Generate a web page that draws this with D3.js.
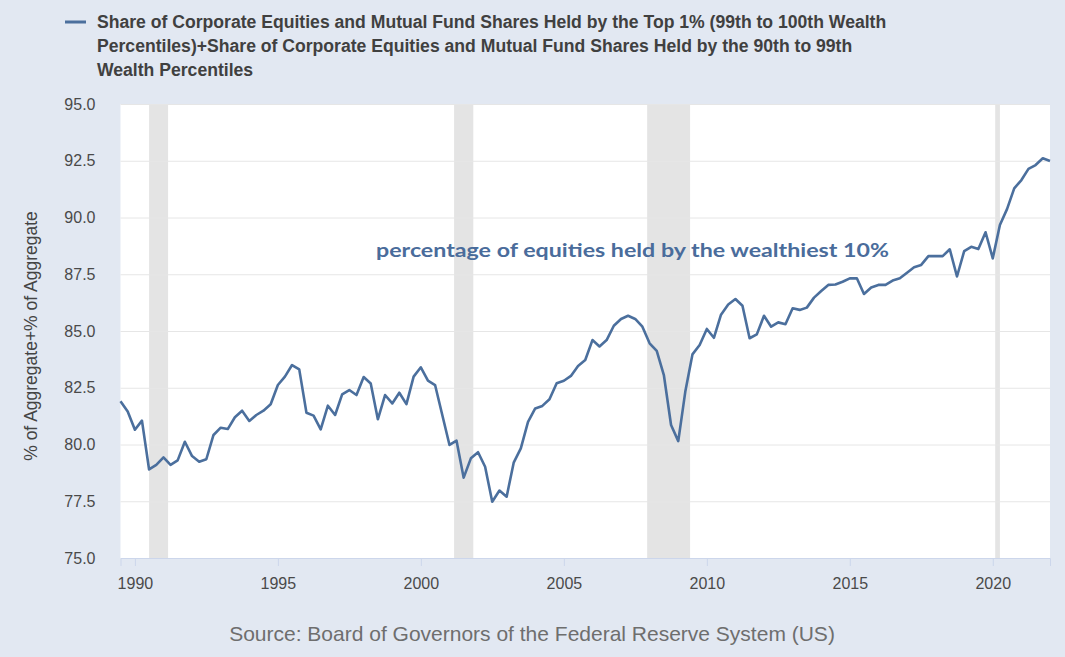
<!DOCTYPE html>
<html>
<head>
<meta charset="utf-8">
<script src="https://cdn.jsdelivr.net/npm/d3@7"></script>
<style>
  html, body { margin: 0; padding: 0; background: #e2e8f2; }
  svg { display: block; }
</style>
</head>
<body>
<div id="chartArea"></div>
<script>
// quarterly observations, first one is 1989-07-01
const firstQuarter = "1989-07-01";
const shareValues = [
  81.90, 81.45,
  80.65, 81.05, 78.90, 79.10,
  79.43, 79.10, 79.30, 80.12,
  79.49, 79.24, 79.35, 80.42,
  80.74, 80.68, 81.20, 81.49,
  81.04, 81.30, 81.49, 81.77,
  82.62, 82.99, 83.50, 83.31,
  81.40, 81.27, 80.67, 81.71,
  81.30, 82.21, 82.40, 82.18,
  82.97, 82.69, 81.11, 82.18,
  81.81, 82.28, 81.78, 82.99,
  83.40, 82.81, 82.62, 81.30,
  79.98, 80.17, 78.54, 79.39,
  79.66, 79.02, 77.48, 77.97,
  77.70, 79.20, 79.83, 81.00,
  81.59, 81.70, 81.99, 82.70,
  82.81, 83.02, 83.46, 83.72,
  84.60, 84.32, 84.60, 85.23,
  85.53, 85.67, 85.53, 85.19,
  84.46, 84.12, 83.06, 80.86,
  80.15, 82.33, 83.97, 84.38,
  85.09, 84.70, 85.72, 86.17,
  86.41, 86.11, 84.68, 84.85,
  85.67, 85.19, 85.38, 85.30,
  86.00, 85.93, 86.03, 86.47,
  86.76, 87.03, 87.05, 87.17,
  87.32, 87.32, 86.63, 86.92,
  87.03, 87.03, 87.22, 87.32,
  87.57, 87.81, 87.91, 88.30,
  88.30, 88.30, 88.60, 87.40,
  88.52, 88.71, 88.61, 89.35,
  88.20, 89.67, 90.37, 91.28,
  91.65, 92.14, 92.31, 92.61,
  92.49
];
const recessions = [
  ["1990-07-01", "1991-03-01"],
  ["2001-03-01", "2001-11-01"],
  ["2007-12-01", "2009-06-01"],
  ["2020-02-01", "2020-04-01"]
];
const yTicks = [75, 77.5, 80, 82.5, 85, 87.5, 90, 92.5, 95];
const xTickYears = [1990, 1995, 2000, 2005, 2010, 2015, 2020];
const legendLines = [
  "Share of Corporate Equities and Mutual Fund Shares Held by the Top 1% (99th to 100th Wealth",
  "Percentiles)+Share of Corporate Equities and Mutual Fund Shares Held by the 90th to 99th",
  "Wealth Percentiles"
];
const yTitle = "% of Aggregate+% of Aggregate";
const noteText = "percentage of equities held by the wealthiest 10%";
const sourceText = "Source: Board of Governors of the Federal Reserve System (US)";

const width = 1065, height = 657;
const plot = { left: 120.5, right: 1050, top: 104, bottom: 558 };
const lineColor = "#4b6f9d";
const sans = "'Liberation Sans', Arial, sans-serif";
const parse = d3.timeParse("%Y-%m-%d");

const data = shareValues.map((v, i) => ({
  date: d3.timeMonth.offset(parse(firstQuarter), i * 3),
  value: v
}));

const svg = d3.select("#chartArea")
  .append("svg")
  .attr("width", width)
  .attr("height", height);

svg.append("rect")
  .attr("width", width).attr("height", height)
  .attr("fill", "#e2e8f2");

const xScale = d3.scaleTime()
  .domain([data[0].date, data[data.length - 1].date])
  .range([plot.left, plot.right]);

const yScale = d3.scaleLinear()
  .domain([75, 95])
  .range([plot.bottom, plot.top]);

// plot background
svg.append("rect")
  .attr("x", plot.left).attr("y", plot.top)
  .attr("width", plot.right - plot.left)
  .attr("height", plot.bottom - plot.top)
  .attr("fill", "#ffffff");

// recession shading
svg.append("g")
  .selectAll("rect")
  .data(recessions)
  .join("rect")
  .attr("x", d => xScale(parse(d[0])))
  .attr("y", plot.top)
  .attr("width", d => xScale(parse(d[1])) - xScale(parse(d[0])))
  .attr("height", plot.bottom - plot.top)
  .attr("fill", "#e4e4e4");

// grid + y labels
const yAxis = d3.axisLeft(yScale)
  .tickValues(yTicks)
  .tickSize(-(plot.right - plot.left))
  .tickPadding(25)
  .tickFormat(d3.format(".1f"));
svg.append("g")
  .attr("transform", `translate(${plot.left},0)`)
  .call(yAxis)
  .call(g => g.select(".domain").remove())
  .call(g => g.selectAll(".tick line").attr("stroke", "#e6e6e6").attr("stroke-width", 1))
  .call(g => g.selectAll(".tick text")
    .attr("fill", "#4a4a4a")
    .style("font-family", sans)
    .style("font-size", "16px"));

// x axis
const xAxis = d3.axisBottom(xScale)
  .tickValues(xTickYears.map(y => new Date(y, 0, 1)))
  .tickSize(8)
  .tickPadding(12)
  .tickFormat(d3.timeFormat("%Y"));
svg.append("g")
  .attr("transform", `translate(0,${plot.bottom})`)
  .call(xAxis)
  .call(g => g.select(".domain").attr("stroke", "#ccd6eb"))
  .call(g => g.selectAll(".tick line").attr("stroke", "#ccd6eb"))
  .call(g => g.selectAll(".tick text")
    .attr("fill", "#4a4a4a")
    .style("font-family", sans)
    .style("font-size", "16px"));

// series line
const lineChart = d3.line()
  .x(d => xScale(d.date))
  .y(d => yScale(d.value));
svg.append("path")
  .datum(data)
  .attr("d", lineChart)
  .attr("fill", "none")
  .attr("stroke", lineColor)
  .attr("stroke-width", 2.6)
  .attr("stroke-linejoin", "round");

// annotation in the plot
svg.append("text")
  .attr("x", 376)
  .attr("y", 257)
  .attr("fill", "#4a6c9b")
  .style("font-family", "Lato, 'Open Sans', sans-serif")
  .style("font-weight", 700)
  .style("font-size", "19px")
  .attr("textLength", 513)
  .attr("lengthAdjust", "spacingAndGlyphs")
  .text(noteText);

// legend
svg.append("line")
  .attr("x1", 65).attr("x2", 86)
  .attr("y1", 22).attr("y2", 22)
  .attr("stroke", lineColor)
  .attr("stroke-width", 3);
svg.append("g")
  .selectAll("text")
  .data(legendLines)
  .join("text")
  .attr("x", 97)
  .attr("y", (d, i) => 28 + i * 24)
  .attr("fill", "#404040")
  .style("font-family", sans)
  .style("font-weight", 700)
  .style("font-size", "17.6px")
  .text(d => d);

// y axis title
svg.append("text")
  .attr("transform", `translate(37,${(plot.top + plot.bottom) / 2 + 5}) rotate(-90)`)
  .attr("text-anchor", "middle")
  .attr("fill", "#444444")
  .style("font-family", sans)
  .style("font-size", "17.5px")
  .text(yTitle);

// source
svg.append("text")
  .attr("x", 532)
  .attr("y", 641)
  .attr("text-anchor", "middle")
  .attr("fill", "#6e6e6e")
  .style("font-family", sans)
  .style("font-size", "21px")
  .text(sourceText);
</script>
</body>
</html>
